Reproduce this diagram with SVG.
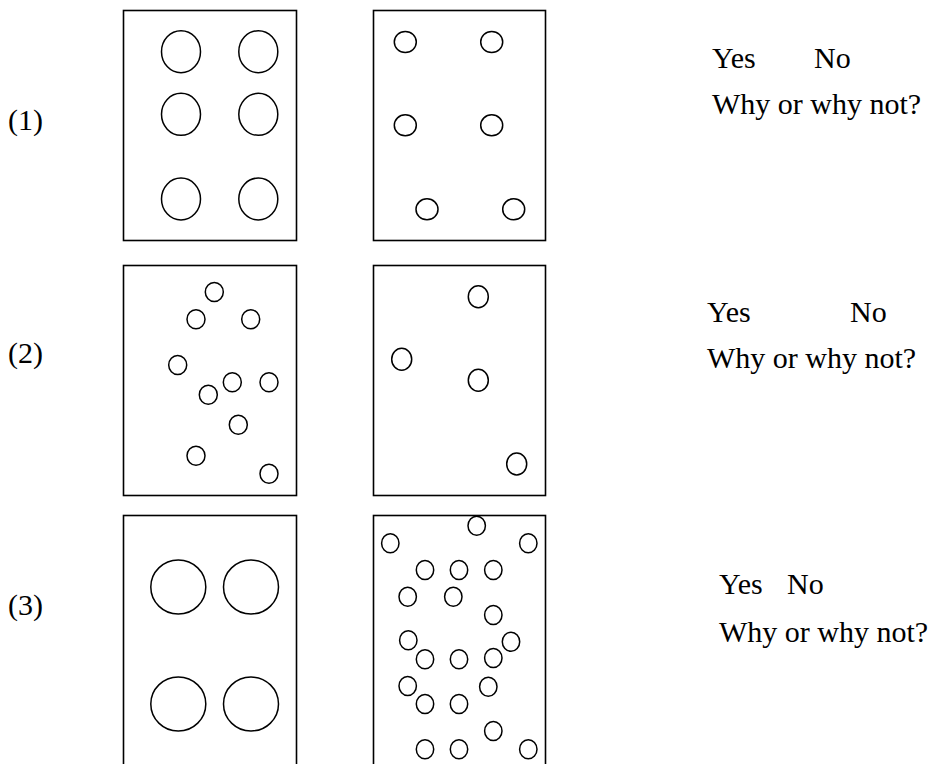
<svg xmlns="http://www.w3.org/2000/svg" width="945" height="764" viewBox="0 0 945 764">
<style>
.box{fill:none;stroke:#000;stroke-width:1.6}
.c{fill:none;stroke:#000;stroke-width:1.5}
.t{font-family:"Liberation Serif","Times New Roman",serif;font-size:30px;fill:#000}
</style>
<rect width="945" height="764" fill="#fff"/>
<g id="labels">
<text class="t" x="8" y="130">(1)</text>
<text class="t" x="8" y="363">(2)</text>
<text class="t" x="8" y="615">(3)</text>
</g>
<g id="row1-left">
<rect class="box" x="123.5" y="10.5" width="173" height="230"/>
<ellipse class="c" cx="181" cy="51.7" rx="19.5" ry="21"/>
<ellipse class="c" cx="258.3" cy="51.7" rx="19.5" ry="21"/>
<ellipse class="c" cx="181" cy="114.3" rx="19.5" ry="21"/>
<ellipse class="c" cx="258.3" cy="114.3" rx="19.5" ry="21"/>
<ellipse class="c" cx="181" cy="199" rx="19.5" ry="21"/>
<ellipse class="c" cx="258.3" cy="199" rx="19.5" ry="21"/>
</g>
<g id="row1-right">
<rect class="box" x="373.5" y="10.5" width="172" height="230"/>
<ellipse class="c" cx="405.3" cy="42" rx="11" ry="10.5"/>
<ellipse class="c" cx="491.7" cy="42" rx="11" ry="10.5"/>
<ellipse class="c" cx="405.3" cy="125.3" rx="11" ry="10.5"/>
<ellipse class="c" cx="491.7" cy="125.3" rx="11" ry="10.5"/>
<ellipse class="c" cx="427" cy="209.3" rx="11" ry="10.5"/>
<ellipse class="c" cx="513.7" cy="209.3" rx="11" ry="10.5"/>
</g>
<g id="row1-text">
<text class="t" x="712" y="68">Yes</text>
<text class="t" x="814" y="68">No</text>
<text class="t" x="712" y="114">Why or why not?</text>
</g>
<g id="row2-left">
<rect class="box" x="123.5" y="265.5" width="173" height="230"/>
<ellipse class="c" cx="214.3" cy="292" rx="9" ry="9.5"/>
<ellipse class="c" cx="196" cy="319.3" rx="9" ry="9.5"/>
<ellipse class="c" cx="250.7" cy="319.3" rx="9" ry="9.5"/>
<ellipse class="c" cx="177.7" cy="365" rx="9" ry="9.5"/>
<ellipse class="c" cx="232.3" cy="382.3" rx="9" ry="9.5"/>
<ellipse class="c" cx="269" cy="382.3" rx="9" ry="9.5"/>
<ellipse class="c" cx="208.3" cy="394.7" rx="9" ry="9.5"/>
<ellipse class="c" cx="238.3" cy="424.7" rx="9" ry="9.5"/>
<ellipse class="c" cx="196" cy="455.7" rx="9" ry="9.5"/>
<ellipse class="c" cx="269" cy="473.7" rx="9" ry="9.5"/>
</g>
<g id="row2-right">
<rect class="box" x="373.5" y="265.5" width="172" height="230"/>
<ellipse class="c" cx="478.3" cy="296.7" rx="10" ry="11"/>
<ellipse class="c" cx="401.7" cy="359.3" rx="10" ry="11"/>
<ellipse class="c" cx="478.3" cy="380.3" rx="10" ry="11"/>
<ellipse class="c" cx="516.7" cy="464" rx="10" ry="11"/>
</g>
<g id="row2-text">
<text class="t" x="707" y="322">Yes</text>
<text class="t" x="850" y="322">No</text>
<text class="t" x="707" y="368">Why or why not?</text>
</g>
<g id="row3-left">
<rect class="box" x="123.5" y="515.5" width="173" height="260"/>
<ellipse class="c" cx="178.3" cy="587" rx="27.5" ry="27"/>
<ellipse class="c" cx="251" cy="587" rx="27.5" ry="27"/>
<ellipse class="c" cx="178.3" cy="704" rx="27.5" ry="27"/>
<ellipse class="c" cx="251" cy="704" rx="27.5" ry="27"/>
</g>
<g id="row3-right">
<rect class="box" x="373.5" y="515.5" width="172" height="260"/>
<ellipse class="c" cx="476.7" cy="525.7" rx="8.7" ry="9.5"/>
<ellipse class="c" cx="390.3" cy="543.3" rx="8.7" ry="9.5"/>
<ellipse class="c" cx="528.3" cy="543.3" rx="8.7" ry="9.5"/>
<ellipse class="c" cx="425" cy="570" rx="8.7" ry="9.5"/>
<ellipse class="c" cx="459" cy="570" rx="8.7" ry="9.5"/>
<ellipse class="c" cx="493.3" cy="570" rx="8.7" ry="9.5"/>
<ellipse class="c" cx="407.7" cy="596.7" rx="8.7" ry="9.5"/>
<ellipse class="c" cx="453.3" cy="596.7" rx="8.7" ry="9.5"/>
<ellipse class="c" cx="493.3" cy="615" rx="8.7" ry="9.5"/>
<ellipse class="c" cx="408.3" cy="640.3" rx="8.7" ry="9.5"/>
<ellipse class="c" cx="511" cy="641.7" rx="8.7" ry="9.5"/>
<ellipse class="c" cx="425" cy="659.3" rx="8.7" ry="9.5"/>
<ellipse class="c" cx="459" cy="659.3" rx="8.7" ry="9.5"/>
<ellipse class="c" cx="493.3" cy="658" rx="8.7" ry="9.5"/>
<ellipse class="c" cx="407.7" cy="686" rx="8.7" ry="9.5"/>
<ellipse class="c" cx="488.3" cy="686.7" rx="8.7" ry="9.5"/>
<ellipse class="c" cx="425" cy="704" rx="8.7" ry="9.5"/>
<ellipse class="c" cx="459" cy="704" rx="8.7" ry="9.5"/>
<ellipse class="c" cx="493.3" cy="731" rx="8.7" ry="9.5"/>
<ellipse class="c" cx="425" cy="749.3" rx="8.7" ry="9.5"/>
<ellipse class="c" cx="459" cy="749.3" rx="8.7" ry="9.5"/>
<ellipse class="c" cx="528.3" cy="749.3" rx="8.7" ry="9.5"/>
</g>
<g id="row3-text">
<text class="t" x="719" y="594">Yes</text>
<text class="t" x="787" y="594">No</text>
<text class="t" x="719" y="642">Why or why not?</text>
</g>
</svg>
